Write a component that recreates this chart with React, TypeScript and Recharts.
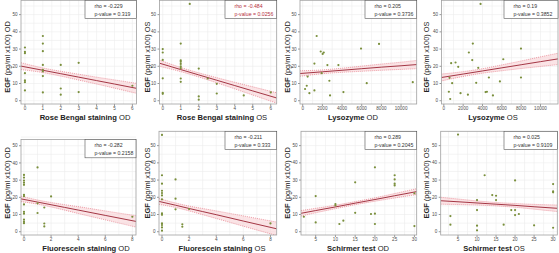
import { ComposedChart, Scatter, Line, Area, XAxis, YAxis, CartesianGrid } from 'recharts'

const FONT = '"Liberation Sans", Arial, Helvetica, sans-serif'
const DOT = '#7a8f3c'
const FIT = '#9a2232'
const CI_LINE = '#e0596a'
const CI_FILL = '#f7cdd2'

const Y_TICKS = [0, 10, 20, 30, 40, 50]
const Y_GRID = [0, 5, 10, 15, 20, 25, 30, 35, 40, 45, 50, 55]

// Rose Bengal staining OD
const rbOdX = [0, 0, 0, 0, 0, 0, 0, 1, 1, 1, 1, 1, 1, 1, 1, 2, 2, 2, 3, 3, 6]
const rbOdY = [30.9, 28.4, 27.6, 16, 11.8, 10.8, 6, 37.6, 33.2, 28.8, 20.8, 18, 17, 14.3, 4.8, 20.8, 7.1, 3.5, 22, 5, 8.7]
const rbOdBandX = [-0.22, 1, 2, 3, 4, 5, 6.23]
const rbOdFit = [20.1, 17.7, 15.7, 13.7, 11.7, 9.7, 7.2]
const rbOdLo = [18.1, 16.35, 14.3, 12.0, 9.7, 7.3, 4.3]
const rbOdHi = [22.1, 19.05, 17.1, 15.4, 13.7, 12.1, 10.1]

// Rose Bengal staining OS
const rbOsX = [0, 0, 0, 0, 0, 0, 1, 1, 1, 1, 1, 1, 1, 1, 1.5, 2, 2, 2, 2.5, 3, 3, 4.5, 6]
const rbOsY = [30, 28, 23.7, 13, 4.6, 4, 33.2, 23.4, 22.6, 21.4, 19.9, 18.9, 12.9, 11, 56.2, 18.7, 2.5, 0.6, 12.9, 9.8, 4.2, 3.1, 4.8]
const rbOsBandX = [-0.18, 1, 2, 3, 4, 5, 6.33]
const rbOsFit = [21.8, 18.1, 15.0, 11.9, 8.8, 5.7, 1.6]
const rbOsLo = [20.0, 16.9, 13.8, 10.4, 6.9, 3.3, -1.4]
const rbOsHi = [23.6, 19.3, 16.2, 13.4, 10.7, 8.1, 4.6]

// Lysozyme OD
const lyOdX = [240, 410, 500, 680, 1190, 1190, 1420, 1830, 1930, 2030, 2140, 2510, 2710, 2780, 3630, 4140, 5930, 6510, 7760, 11190]
const lyOdY = [6.8, 8.7, 14, 4.4, 6, 21.6, 37.6, 28.6, 16, 27.2, 28, 20.7, 11.6, 3.1, 20.7, 5, 30.3, 10.2, 33, 10.8]
const lyOdBandX = [-275, 2000, 4000, 6000, 8000, 10000, 11590]
const lyOdFit = [15.8, 16.8, 17.7, 18.6, 19.5, 20.3, 21.0]
const lyOdLo = [14.2, 15.7, 16.5, 17.1, 17.7, 18.2, 18.6]
const lyOdHi = [17.4, 17.9, 18.9, 20.1, 21.3, 22.4, 23.4]

// Lysozyme OS
const lyOsX = [3800, 3000, 2590, 2940, 760, 1210, 1490, 3560, 6150, 7980, 7980, 590, 4660, 860, 3350, 5800, 520, 1730, 2490, 4320, 4460, 5080, 660]
const lyOsY = [56.2, 33.2, 28, 23.6, 21.8, 22.2, 19.7, 19.1, 24.1, 30.3, 13.5, 13.3, 13.5, 10.2, 10.4, 11.2, 5.2, 4.4, 3.5, 5, 5.2, 3.1, 1]
const lyOsBandX = [-240, 2000, 4000, 6000, 8000, 10000, 11810]
const lyOsFit = [13.5, 15.5, 17.3, 19.1, 20.9, 22.7, 24.3]
const lyOsLo = [11.5, 14.1, 16.0, 17.4, 18.7, 19.9, 21.0]
const lyOsHi = [15.5, 16.9, 18.6, 20.8, 23.1, 25.5, 27.6]

// Fluorescein staining OD
const flOdX = [0, 0, 0, 0, 0, 0, 0, 0, 0, 0, 0, 0, 0, 1, 1, 1, 1.5, 1.5, 1.5, 2, 8]
const flOdY = [33, 31.5, 29.8, 28.5, 27.3, 21.5, 20.7, 15.9, 11.6, 10.5, 7, 5.8, 5, 37.4, 16.5, 10.9, 14.1, 4.8, 3.1, 20.5, 8.7]
const flOdBandX = [-0.22, 1, 2, 3, 4, 6, 8.27]
const flOdFit = [19.1, 17.25, 15.7, 14.15, 12.6, 9.5, 6.0]
const flOdLo = [17.5, 16.05, 14.4, 12.55, 10.6, 6.9, 2.7]
const flOdHi = [20.7, 18.45, 17.0, 15.75, 14.6, 12.1, 9.3]

// Fluorescein staining OS
const flOsX = [0, 0, 0, 0, 0, 0, 0, 0, 0, 0, 0, 0, 0, 1, 1, 1, 1.5, 1.5, 2, 8]
const flOsY = [56.2, 32.8, 27.9, 23.8, 22.5, 21.1, 18.8, 10.7, 9.8, 4.8, 3.9, 2.5, 0.6, 30.4, 19.2, 13, 4.3, 2.9, 13.2, 4.8]
const flOsBandX = [-0.22, 1, 2, 3, 4, 6, 8.46]
const flOsFit = [17.6, 15.4, 13.5, 11.7, 9.9, 6.2, 1.7]
const flOsLo = [15.9, 14.1, 12.1, 9.9, 7.7, 3.2, -2.2]
const flOsHi = [19.3, 16.7, 14.9, 13.5, 12.1, 9.2, 5.6]

// Schirmer test OD
const stOdX = [2, 5, 5, 10, 10, 11, 12, 15, 15, 19, 20, 20, 20, 25, 25, 25, 25, 30, 30]
const stOdY = [8.7, 20.7, 5.4, 16.1, 15.3, 4.5, 6.4, 28.7, 11, 10.3, 37.4, 10.5, 4.5, 32.8, 30.4, 27.9, 26.9, 22.3, 3.3]
const stOdBandX = [1.28, 5, 10, 15, 20, 25, 30.58]
const stOdFit = [10.7, 12.3, 14.4, 16.6, 18.7, 20.9, 23.3]
const stOdLo = [9.1, 11.0, 13.4, 15.7, 17.7, 19.6, 21.6]
const stOdHi = [12.3, 13.6, 15.4, 17.5, 19.7, 22.2, 25.0]

// Schirmer test OS
const stOsX = [3, 3, 5, 10, 10, 10, 10, 12, 14, 15, 15, 17, 19, 20, 20, 20, 21, 25, 30, 30, 30, 30]
const stOsY = [9.1, 4.1, 56.4, 18.4, 12.6, 3.5, 0.8, 32.8, 21.3, 20.9, 18.4, 4.1, 12.6, 29.8, 12.6, 9.7, 10.3, 3.7, 27.7, 23.4, 22.9, 2.3]
const stOsBandX = [0.45, 5, 10, 15, 20, 25, 31.1]
const stOsFit = [18.0, 17.4, 16.7, 16.0, 15.3, 14.5, 13.6]
const stOsLo = [16.0, 15.8, 15.5, 15.0, 14.2, 13.1, 11.7]
const stOsHi = [20.0, 19.0, 17.9, 17.0, 16.4, 15.9, 15.5]

const stainTicks = [0, 1, 2, 3, 4, 5, 6]
const stainGrid = [0, 0.5, 1, 1.5, 2, 2.5, 3, 3.5, 4, 4.5, 5, 5.5, 6]
const lysoTicks = [0, 2000, 4000, 6000, 8000, 10000]
const lysoGrid = [0, 1000, 2000, 3000, 4000, 5000, 6000, 7000, 8000, 9000, 10000, 11000]
const fluoTicks = [0, 2, 4, 6, 8]
const fluoGrid = [0, 1, 2, 3, 4, 5, 6, 7, 8]
const schTicks = [5, 10, 15, 20, 25, 30]
const schGrid = [2.5, 5, 7.5, 10, 12.5, 15, 17.5, 20, 22.5, 25, 27.5, 30]

const pts = (xs: number[], ys: number[]) => xs.map((x, i) => ({ x, y: ys[i] }))
const band = (xs: number[], fit: number[], lo: number[], hi: number[]) =>
  xs.map((x, i) => ({ x, fit: fit[i], lo: lo[i], hi: hi[i], ci: [lo[i], hi[i]] }))

const panels = [
  { col: 0, row: 0, title: 'Rose Bengal staining', eye: 'OD', rho: '-0.229', p: '0.319', sig: false,
    left: 21, right: 136.5, top: 0, titleX: 85, xDomain: [-0.22, 6.23], xTicks: stainTicks, xGrid: stainGrid,
    points: pts(rbOdX, rbOdY), band: band(rbOdBandX, rbOdFit, rbOdLo, rbOdHi) },
  { col: 1, row: 0, title: 'Rose Bengal staining', eye: 'OS', rho: '-0.484', p: '0.0256', sig: true,
    left: 19.5, right: 136.7, top: 0, titleX: 82, xDomain: [-0.18, 6.33], xTicks: stainTicks, xGrid: stainGrid,
    points: pts(rbOsX, rbOsY), band: band(rbOsBandX, rbOsFit, rbOsLo, rbOsHi) },
  { col: 2, row: 0, title: 'Lysozyme', eye: 'OD', rho: '0.205', p: '0.3736', sig: false,
    left: 20, right: 136.7, top: 0, titleX: 73, xDomain: [-275, 11590], xTicks: lysoTicks, xGrid: lysoGrid,
    points: pts(lyOdX, lyOdY), band: band(lyOdBandX, lyOdFit, lyOdLo, lyOdHi) },
  { col: 3, row: 0, title: 'Lysozyme', eye: 'OS', rho: '0.19', p: '0.3852', sig: false,
    left: 22.5, right: 139, top: 0, titleX: 74, xDomain: [-240, 11810], xTicks: lysoTicks, xGrid: lysoGrid,
    points: pts(lyOsX, lyOsY), band: band(lyOsBandX, lyOsFit, lyOsLo, lyOsHi) },
  { col: 0, row: 1, title: 'Fluorescein staining', eye: 'OD', rho: '-0.282', p: '0.2158', sig: false,
    left: 21, right: 136, top: 8.2, yTop: 53.8, titleX: 86, xDomain: [-0.22, 8.27], xTicks: fluoTicks, xGrid: fluoGrid,
    points: pts(flOdX, flOdY), band: band(flOdBandX, flOdFit, flOdLo, flOdHi) },
  { col: 1, row: 1, title: 'Fluorescein staining', eye: 'OS', rho: '-0.211', p: '0.333', sig: false,
    left: 19, right: 136.7, top: 0, titleX: 82, xDomain: [-0.22, 8.46], xTicks: fluoTicks, xGrid: fluoGrid,
    points: pts(flOsX, flOsY), band: band(flOsBandX, flOsFit, flOsLo, flOsHi) },
  { col: 2, row: 1, title: 'Schirmer test', eye: 'OD', rho: '0.289', p: '0.2045', sig: false,
    left: 21, right: 136.7, top: 0, titleX: 78, xDomain: [1.28, 30.58], xTicks: schTicks, xGrid: schGrid,
    points: pts(stOdX, stOdY), band: band(stOdBandX, stOdFit, stOdLo, stOdHi) },
  { col: 3, row: 1, title: 'Schirmer test', eye: 'OS', rho: '0.025', p: '0.9109', sig: false,
    left: 21.7, right: 138.3, top: 0, titleX: 75, xDomain: [0.45, 31.1], xTicks: schTicks, xGrid: schGrid,
    points: pts(stOsX, stOsY), band: band(stOsBandX, stOsFit, stOsLo, stOsHi) },
]

const COL_X = [0, 140, 280, 419]
const ROW_Y = [0, 130.5]
const W = 140
const H = 123
const FRAME_BOTTOM = 104

const dotShape = (props: any) => <circle cx={props.cx} cy={props.cy} r={1.1} fill={DOT} />

const tickStyle = { fontSize: 4.6, fill: '#4d4d4d', fontFamily: FONT }

function CorrPanel({ cfg }: { cfg: any }) {
  const yTop = cfg.yTop ?? 58.5
  const boxLeft = 85
  const statColor = cfg.sig ? '#b5303c' : '#333'
  const titleY = cfg.row === 0 ? 57 : 52
  return (
    <div style={{ position: 'absolute', left: COL_X[cfg.col], top: ROW_Y[cfg.row], width: W, height: H }}>
      <ComposedChart
        width={W}
        height={H}
        data={cfg.band}
        margin={{ top: cfg.top, right: W - cfg.right, bottom: 0, left: 0 }}
      >
        <CartesianGrid stroke="#ececec" strokeWidth={0.6} horizontalValues={Y_GRID} verticalValues={cfg.xGrid} />
        <XAxis
          dataKey="x"
          type="number"
          domain={cfg.xDomain}
          ticks={cfg.xTicks}
          interval={0}
          allowDataOverflow
          height={H - FRAME_BOTTOM}
          axisLine={false}
          tickSize={2}
          tickMargin={1.2}
          tick={tickStyle}
          tickLine={{ stroke: '#333', strokeWidth: 0.5 }}
        />
        <YAxis
          dataKey="y"
          type="number"
          domain={[-1.9, yTop]}
          ticks={Y_TICKS}
          interval={0}
          allowDataOverflow
          width={cfg.left}
          axisLine={false}
          tickSize={2}
          tickMargin={1.5}
          tick={tickStyle}
          tickLine={{ stroke: '#333', strokeWidth: 0.5 }}
        />
        <Area dataKey="ci" type="monotone" fill={CI_FILL} fillOpacity={0.55} stroke="none" isAnimationActive={false} />
        <Line dataKey="lo" type="monotone" stroke={CI_LINE} strokeWidth={0.55} strokeDasharray="1 1" dot={false} isAnimationActive={false} />
        <Line dataKey="hi" type="monotone" stroke={CI_LINE} strokeWidth={0.55} strokeDasharray="1 1" dot={false} isAnimationActive={false} />
        <Line dataKey="fit" type="linear" stroke={FIT} strokeWidth={0.9} dot={false} isAnimationActive={false} />
        <Scatter data={cfg.points} dataKey="y" fill={DOT} shape={dotShape} isAnimationActive={false} />
      </ComposedChart>
      <svg
        width={W}
        height={H}
        style={{ position: 'absolute', left: 0, top: 0, pointerEvents: 'none', overflow: 'visible' }}
        fontFamily={FONT}
      >
        <rect
          x={cfg.left}
          y={cfg.top + 0.3}
          width={cfg.right - cfg.left}
          height={FRAME_BOTTOM - cfg.top - 0.3}
          fill="none"
          stroke="#a0a0a0"
          strokeWidth={0.8}
        />
        <rect
          x={boxLeft}
          y={cfg.top + 0.3}
          width={cfg.right - boxLeft}
          height={18.3}
          fill="#fff"
          stroke="#555"
          strokeWidth={0.6}
        />
        <text x={boxLeft + 9.5} y={cfg.top + 7.6} fontSize={5.2} fill={statColor}>
          rho = {cfg.rho}
        </text>
        <text x={boxLeft + 9.5} y={cfg.top + 15.8} fontSize={5.2} fill={statColor}>
          p-value = {cfg.p}
        </text>
        <text
          transform={`translate(10.3, ${titleY}) rotate(-90)`}
          textAnchor="middle"
          fontSize={7.4}
          fill="#222"
        >
          <tspan fontWeight="bold">EGF</tspan> (pg/ml x100) {cfg.eye}
        </text>
        <text x={cfg.titleX} y={119.8} textAnchor="middle" fontSize={7.6} fill="#222">
          <tspan fontWeight="bold">{cfg.title}</tspan> {cfg.eye}
        </text>
      </svg>
    </div>
  )
}

export default function App() {
  return (
    <div
      style={{
        position: 'absolute',
        left: 0,
        top: 0,
        width: 559,
        height: 253,
        overflow: 'hidden',
        background: '#fff',
      }}
    >
      {panels.map((cfg, i) => (
        <CorrPanel key={i} cfg={cfg} />
      ))}
    </div>
  )
}
